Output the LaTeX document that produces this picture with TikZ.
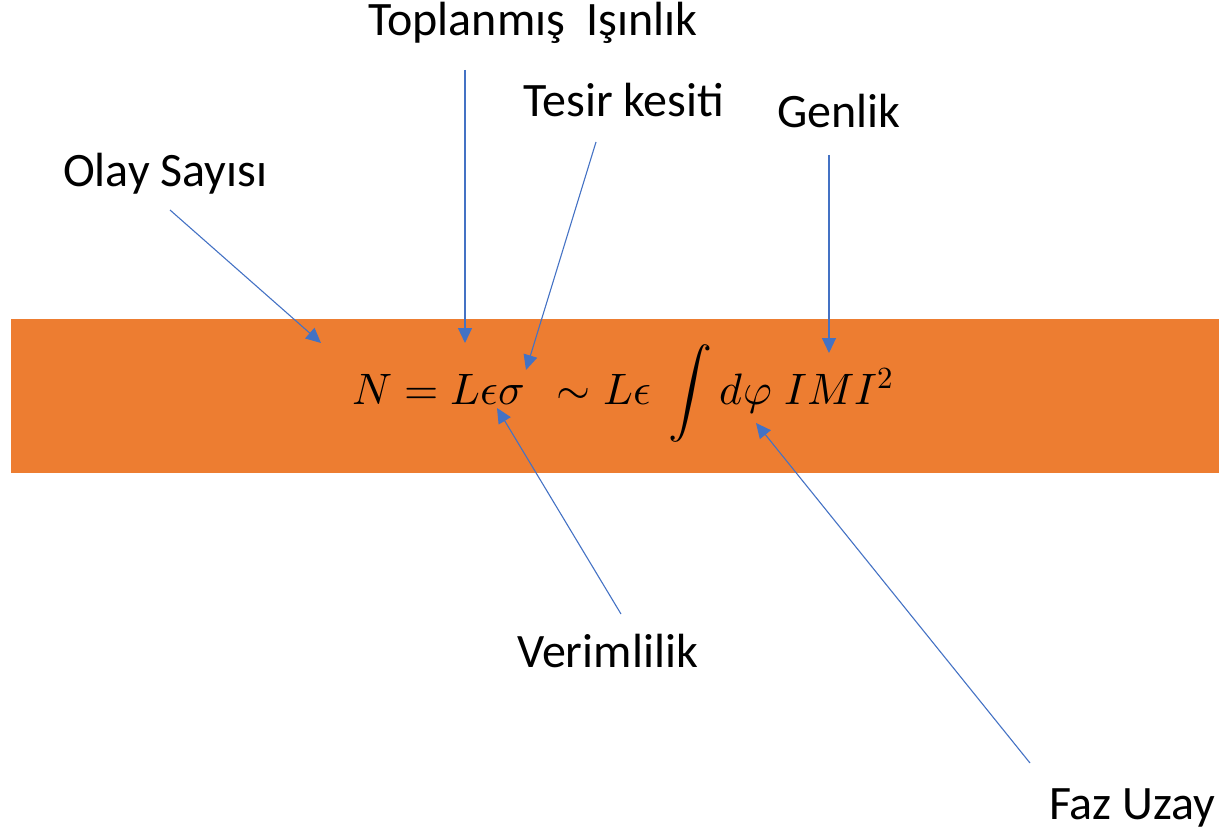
\documentclass[tikz,border=0pt]{standalone}
\usepackage{fontspec}
\usepackage{unicode-math}
\setmainfont{Carlito}
\setmathfont{Latin Modern Math}
\usetikzlibrary{arrows.meta}
\definecolor{band}{HTML}{ED7D31}
\definecolor{arr}{HTML}{4472C4}
\tikzset{
  lbl/.style={anchor=base west, inner sep=0pt, font=\fontsize{48}{56}\selectfont},
  pointer/.style={draw=arr, line width=1.1pt, -{Triangle[length=15pt,width=14pt]}, arr},
}
\begin{document}
\begin{tikzpicture}[x=1pt,y=-1pt]
\useasboundingbox (0,0) rectangle (1219,832);
\fill[band] (11,319) rectangle (1219,473);
\node[anchor=base west, inner sep=0pt, font=\fontsize{44}{50}\selectfont] (formula) at (352,404)
  {$N = L\epsilon\sigma\ \ \sim L\epsilon\ \displaystyle\int d\varphi\; IMI^2$};
\node[lbl] (olay) at (63,187) {Olay Sayısı};
\node[lbl] (top) at (368,36) {Toplanmış\ \ Işınlık};
\node[lbl] (tesir) at (523,117) {Tesir kesiti};
\node[lbl] (genlik) at (777,128) {Genlik};
\node[lbl] (verim) at (517,667) {Verimlilik};
\node[lbl] (faz) at (1049,819) {Faz Uzay};
\coordinate (olayS) at (170,210);   \coordinate (olayE) at (321,343);
\coordinate (topS) at (465,70);     \coordinate (topE) at (465,343);
\coordinate (tesirS) at (596,142);  \coordinate (tesirE) at (526,370);
\coordinate (genS) at (829,155);    \coordinate (genE) at (829,353);
\coordinate (verS) at (621,614);    \coordinate (verE) at (497,408);
\coordinate (fazS) at (1030,763);   \coordinate (fazE) at (756,423);
\draw[pointer] (olayS) -- (olayE);
\draw[pointer] (topS) -- (topE);
\draw[pointer] (tesirS) -- (tesirE);
\draw[pointer] (genS) -- (genE);
\draw[pointer] (verS) -- (verE);
\draw[pointer] (fazS) -- (fazE);
\end{tikzpicture}
\end{document}
